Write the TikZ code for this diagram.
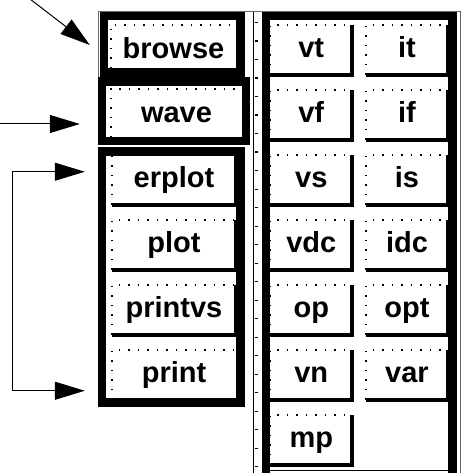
\documentclass[tikz,border=0pt]{standalone}
\usepackage{fontspec}
\setmainfont{Liberation Sans}
\usetikzlibrary{arrows.meta}
\begin{document}
\begin{tikzpicture}[x={(1pt,0pt)},y={(0pt,-1pt)},
  btnfont/.style={font=\fontsize{29}{29}\selectfont\bfseries},
  btn/.style={btnfont, rectangle, inner sep=0pt, minimum height=49.5pt, text height=20pt, text depth=4pt},
  vbtn/.style={btn, minimum width=81.5pt},
  ibtn/.style={btn, minimum width=82pt},
  lbtn/.style={btn, minimum width=124pt},
  dotl/.style={line width=1.5pt, dash pattern=on 1.5pt off 8pt},
  thk/.style={line width=4pt},
  frame/.style={line width=8.5pt, line join=miter},
  thin/.style={line width=1pt, black!60},
  tip/.style={-{Triangle[length=30pt,width=18pt]}, line width=1pt},
  tips/.style={{Triangle[length=30pt,width=18pt]}-{Triangle[length=30pt,width=18pt]}, line width=1pt}
]
\useasboundingbox (0,0) rectangle (461,473);

% thin outer lines
\draw[thin] (98,11.5) -- (461,11.5);
\draw[thin] (98,11.5) -- (98,77);
\draw[thin] (460,11.5) -- (460,473);

% divider
\draw[line width=1pt] (253.5,12) -- (253.5,473);
\draw[line width=3.5pt, dash pattern=on 1.3pt off 17.2pt] (256.5,22) -- (256.5,473);

% right panel frame
\draw[frame] (266,474) -- (266,16) -- (452.5,16) -- (452.5,474);
\draw[line width=1.5pt] (266,470.5) -- (452.5,470.5);

% left frames
\draw[frame] (104,16) rectangle (240.5,72.5);
\draw[frame] (102,81.5) rectangle (246,141);
\draw[frame] (102,151.5) rectangle (240.5,402.5);

% left buttons
\node[btnfont, rectangle, inner sep=0pt, minimum width=125pt, minimum height=43pt, text height=25pt, text depth=0pt] (browse) at (173.5,46.5) {browse};
\node[btnfont, rectangle, inner sep=0pt, minimum width=131pt, minimum height=48pt, text height=22pt, text depth=2pt] (wave) at (176.5,113) {wave};
\node[lbtn] (erplot)  at (174,179.75) {erplot};
\node[lbtn] (plot)    at (174,244.75) {plot};
\node[lbtn] (printvs) at (174,309.75) {printvs};
\node[lbtn] (print)   at (174,374.75) {print};

% right buttons
\node[vbtn] (vt)  at (311.25,49.75)  {vt};
\node[ibtn] (it)  at (407,49.75)     {it};
\node[vbtn] (vf)  at (311.25,114.75) {vf};
\node[ibtn] (if)  at (407,114.75)    {if};
\node[vbtn] (vs)  at (311.25,179.75) {vs};
\node[ibtn] (is)  at (407,179.75)    {is};
\node[vbtn] (vdc) at (311.25,244.75) {vdc};
\node[ibtn] (idc) at (407,244.75)    {idc};
\node[vbtn] (op)  at (311.25,309.75) {op};
\node[ibtn] (opt) at (407,309.75)    {opt};
\node[vbtn] (vn)  at (311.25,374.75) {vn};
\node[ibtn] (var) at (407,374.75)    {var};
\node[vbtn] (mp)  at (311.25,439.75) {mp};

% button edges
\foreach \n in {browse,wave,plot,printvs,print,vt,it,vf,if,vs,is,vdc,idc,op,opt,vn,var,mp}
  \draw[dotl] (\n.south west) |- (\n.north east);
\draw[dotl] (erplot.south west) -- (erplot.north west);
\foreach \n in {erplot,plot,printvs,vt,it,vf,if,vs,is,vdc,idc,op,opt,vn,var,mp}
  \draw[thk] (\n.south west) -| (\n.north east);

% arrows
\coordinate (a1s) at (30,-1);
\draw[tip] (a1s) -- ([xshift=-21pt,yshift=1.5pt]browse.west);
\coordinate (a2s) at (-1,124);
\coordinate (a2e) at ([xshift=-31pt,yshift=-11pt]wave.west);
\draw[tip] (a2s) -- (a2s -| a2e);
\coordinate (e1) at ([xshift=-27pt,yshift=8pt]erplot.west);
\coordinate (p1) at ([xshift=-27pt,yshift=-16pt]print.west);
\draw[tips] (e1) -- ++(-72,0) |- (p1);
\end{tikzpicture}
\end{document}
